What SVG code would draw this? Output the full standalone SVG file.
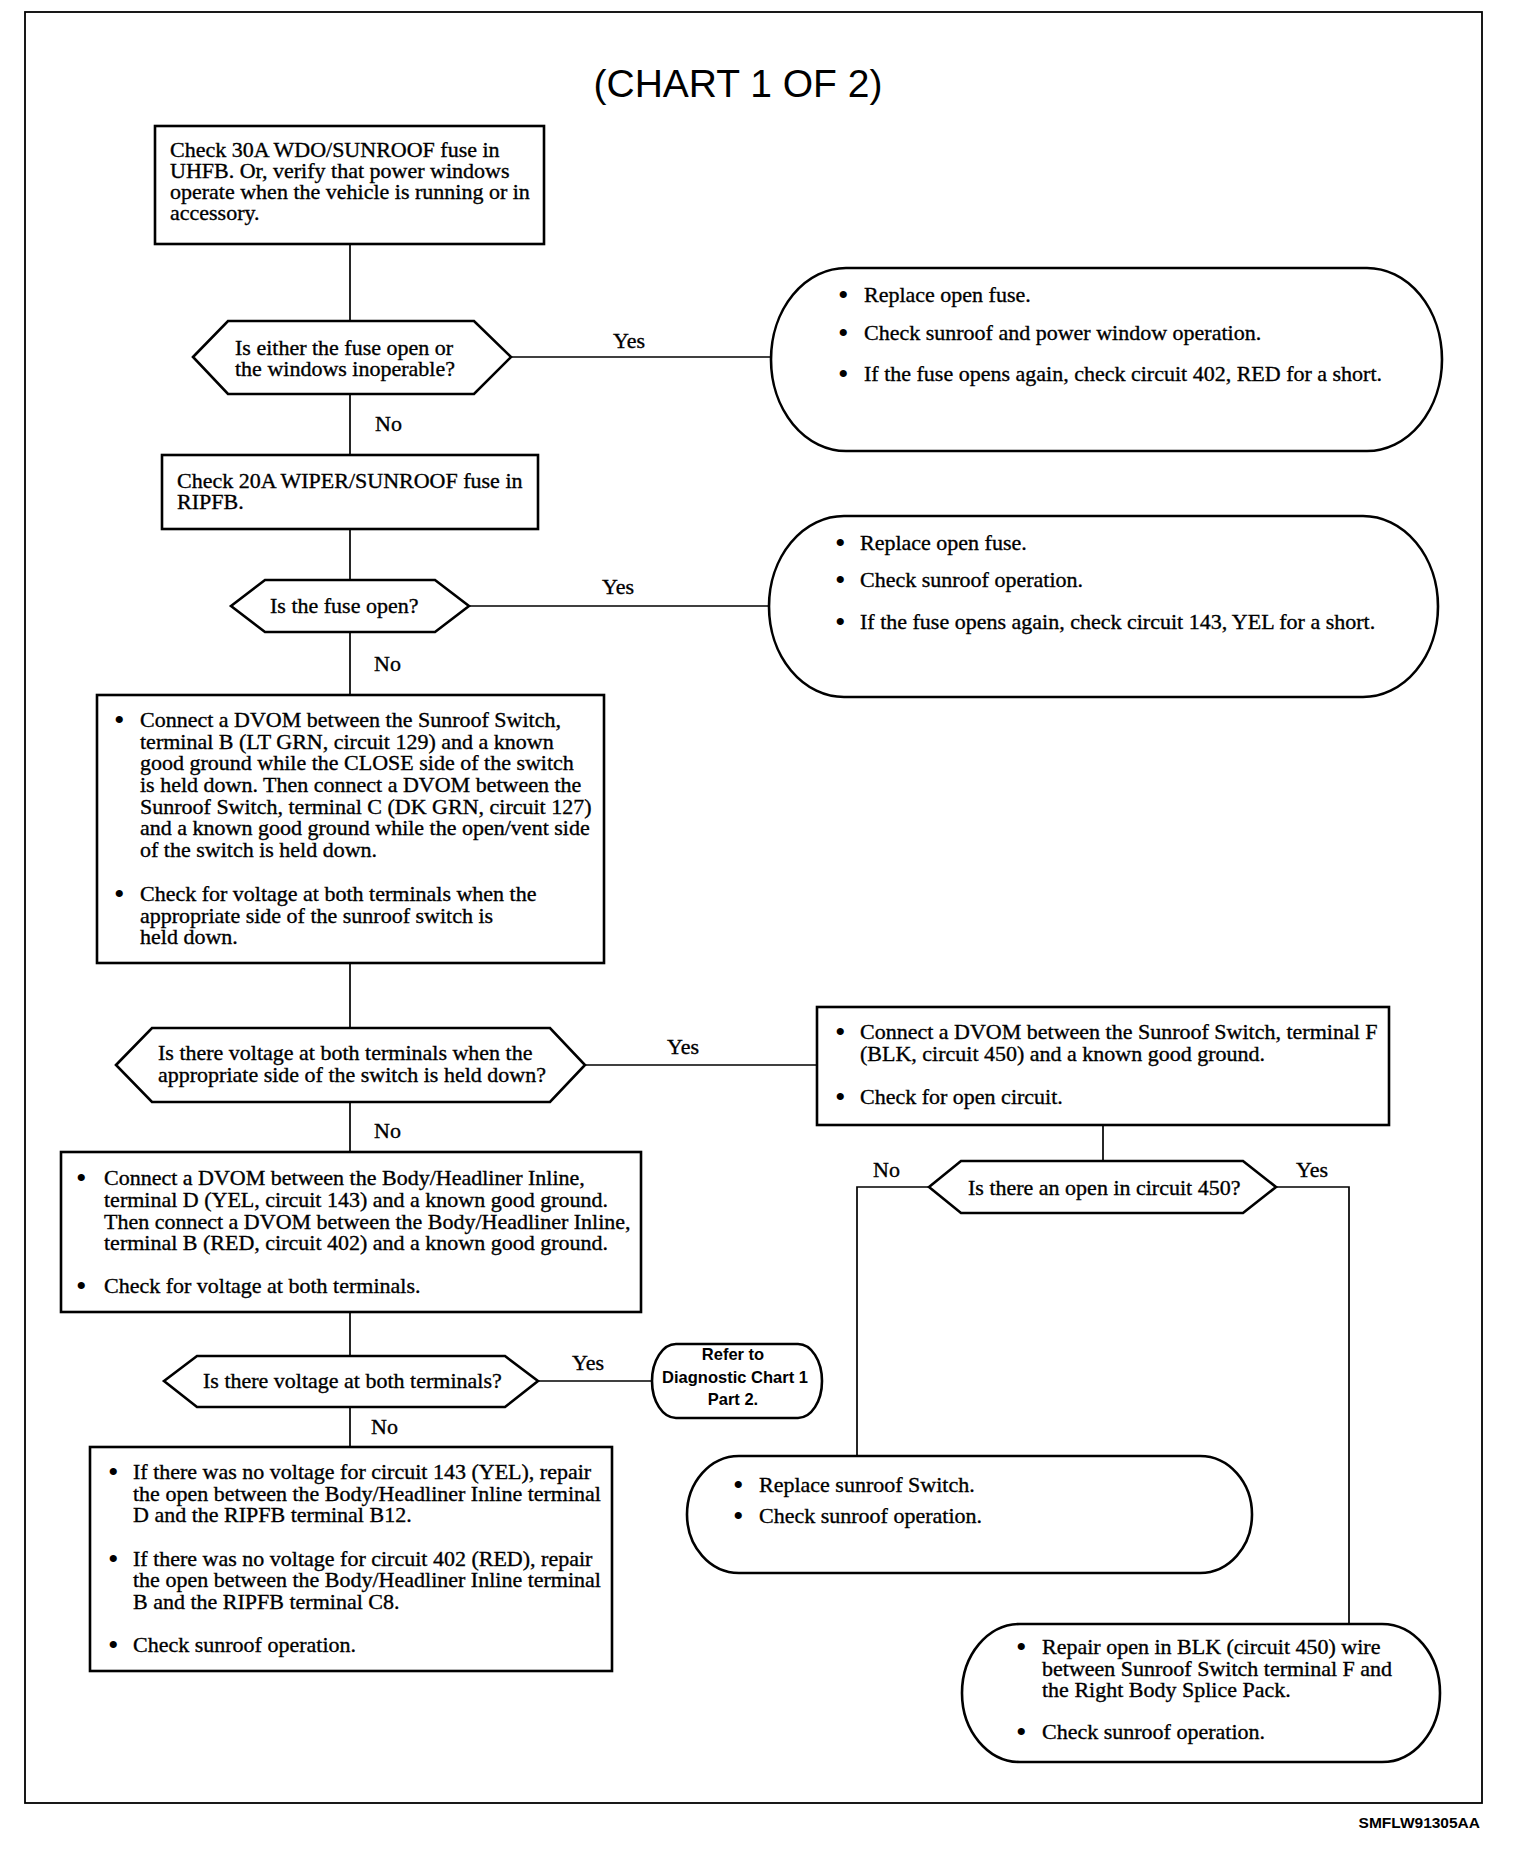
<svg xmlns="http://www.w3.org/2000/svg" width="1520" height="1852" viewBox="0 0 1520 1852">
<style>
.t{font-family:"Liberation Serif","Times New Roman",serif;font-size:22px;fill:#000;stroke:#000;stroke-width:0.35}
.b{font-family:"Liberation Serif","Times New Roman",serif;font-size:30px;fill:#000}
.lbl{font-family:"Liberation Serif","Times New Roman",serif;font-size:22px;fill:#000;stroke:#000;stroke-width:0.35}
.sans{font-family:"Liberation Sans",Arial,sans-serif;fill:#000}
.box{fill:#fff;stroke:#000;stroke-width:2.6}
.con{fill:none;stroke:#000;stroke-width:1.7}
</style>
<rect x="0" y="0" width="1520" height="1852" fill="#fff"/>
<rect x="25" y="12" width="1457" height="1791" fill="none" stroke="#000" stroke-width="1.8"/>
<text class="sans" x="738" y="97" font-size="39" text-anchor="middle">(CHART 1 OF 2)</text>

<g id="connectors">
<path class="con" d="M350 244V321"/>
<path class="con" d="M350 394V455"/>
<path class="con" d="M350 529V580"/>
<path class="con" d="M350 632V695"/>
<path class="con" d="M350 963V1028"/>
<path class="con" d="M350 1102V1152"/>
<path class="con" d="M350 1312V1356"/>
<path class="con" d="M350 1407V1447"/>
<path class="con" d="M511 357H771"/>
<path class="con" d="M469 606H769"/>
<path class="con" d="M585 1065H817"/>
<path class="con" d="M538 1381H652"/>
<path class="con" d="M1103 1125V1161"/>
<path class="con" d="M929 1187H857V1456"/>
<path class="con" d="M1276 1187H1349V1624"/>
<text class="lbl" x="613" y="348">Yes</text>
<text class="lbl" x="375" y="431">No</text>
<text class="lbl" x="602" y="594">Yes</text>
<text class="lbl" x="374" y="671">No</text>
<text class="lbl" x="667" y="1054">Yes</text>
<text class="lbl" x="374" y="1138">No</text>
<text class="lbl" x="873" y="1177">No</text>
<text class="lbl" x="1296" y="1177">Yes</text>
<text class="lbl" x="572" y="1370">Yes</text>
<text class="lbl" x="371" y="1434">No</text>
</g>

<g id="n1">
<rect class="box" x="155" y="126" width="389" height="118"/>
<text class="t" x="170" y="157">Check 30A WDO/SUNROOF fuse in</text>
<text class="t" x="170" y="178">UHFB. Or, verify that power windows</text>
<text class="t" x="170" y="199">operate when the vehicle is running or in</text>
<text class="t" x="170" y="220">accessory.</text>
</g>

<g id="d1">
<polygon class="box" points="193,357 228,321 474,321 511,357 474,394 228,394"/>
<text class="t" x="235" y="355">Is either the fuse open or</text>
<text class="t" x="235" y="376">the windows inoperable?</text>
</g>

<g id="s1">
<rect class="box" x="771" y="268" width="671" height="183" rx="75" ry="91.5"/>
<text class="b" x="838" y="305">•</text><text class="t" x="864" y="302">Replace open fuse.</text>
<text class="b" x="838" y="343">•</text><text class="t" x="864" y="340">Check sunroof and power window operation.</text>
<text class="b" x="838" y="384">•</text><text class="t" x="864" y="381">If the fuse opens again, check circuit 402, RED for a short.</text>
</g>

<g id="n2">
<rect class="box" x="162" y="455" width="376" height="74"/>
<text class="t" x="177" y="488">Check 20A WIPER/SUNROOF fuse in</text>
<text class="t" x="177" y="509">RIPFB.</text>
</g>

<g id="d2">
<polygon class="box" points="231,606 265,580 435,580 469,606 435,632 265,632"/>
<text class="t" x="270" y="613">Is the fuse open?</text>
</g>

<g id="s2">
<rect class="box" x="769" y="516" width="669" height="181" rx="75" ry="90.5"/>
<text class="b" x="835" y="553">•</text><text class="t" x="860" y="550">Replace open fuse.</text>
<text class="b" x="835" y="590">•</text><text class="t" x="860" y="587">Check sunroof operation.</text>
<text class="b" x="835" y="632">•</text><text class="t" x="860" y="629">If the fuse opens again, check circuit 143, YEL for a short.</text>
</g>

<g id="n3">
<rect class="box" x="97" y="695" width="507" height="268"/>
<text class="b" x="114" y="730">•</text>
<text class="t" x="140" y="727">Connect a DVOM between the Sunroof Switch,</text>
<text class="t" x="140" y="749">terminal B (LT GRN, circuit 129) and a known</text>
<text class="t" x="140" y="770">good ground while the CLOSE side of the switch</text>
<text class="t" x="140" y="792">is held down. Then connect a DVOM between the</text>
<text class="t" x="140" y="814">Sunroof Switch, terminal C (DK GRN, circuit 127)</text>
<text class="t" x="140" y="835">and a known good ground while the open/vent side</text>
<text class="t" x="140" y="857">of the switch is held down.</text>
<text class="b" x="114" y="904">•</text>
<text class="t" x="140" y="901">Check for voltage at both terminals when the</text>
<text class="t" x="140" y="923">appropriate side of the sunroof switch is</text>
<text class="t" x="140" y="944">held down.</text>
</g>

<g id="d3">
<polygon class="box" points="116,1065 152,1028 550,1028 585,1065 550,1102 152,1102"/>
<text class="t" x="158" y="1060">Is there voltage at both terminals when the</text>
<text class="t" x="158" y="1082">appropriate side of the switch is held down?</text>
</g>

<g id="n4">
<rect class="box" x="817" y="1007" width="572" height="118"/>
<text class="b" x="835" y="1042">•</text>
<text class="t" x="860" y="1039">Connect a DVOM between the Sunroof Switch, terminal F</text>
<text class="t" x="860" y="1061">(BLK, circuit 450) and a known good ground.</text>
<text class="b" x="835" y="1107">•</text>
<text class="t" x="860" y="1104">Check for open circuit.</text>
</g>

<g id="d4">
<polygon class="box" points="929,1187 961,1161 1243,1161 1276,1187 1243,1213 961,1213"/>
<text class="t" x="968" y="1195">Is there an open in circuit 450?</text>
</g>

<g id="n5">
<rect class="box" x="61" y="1152" width="580" height="160"/>
<text class="b" x="76" y="1188">•</text>
<text class="t" x="104" y="1185">Connect a DVOM between the Body/Headliner Inline,</text>
<text class="t" x="104" y="1207">terminal D (YEL, circuit 143) and a known good ground.</text>
<text class="t" x="104" y="1229">Then connect a DVOM between the Body/Headliner Inline,</text>
<text class="t" x="104" y="1250">terminal B (RED, circuit 402) and a known good ground.</text>
<text class="b" x="76" y="1296">•</text>
<text class="t" x="104" y="1293">Check for voltage at both terminals.</text>
</g>

<g id="d5">
<polygon class="box" points="164,1381 197,1356 505,1356 538,1381 505,1407 197,1407"/>
<text class="t" x="203" y="1388">Is there voltage at both terminals?</text>
</g>

<g id="r1">
<rect class="box" x="652" y="1344" width="170" height="74" rx="24" ry="37"/>
<text class="sans" x="733" y="1360" font-size="16.5" font-weight="bold" text-anchor="middle">Refer to</text>
<text class="sans" x="735" y="1383" font-size="16.5" font-weight="bold" text-anchor="middle">Diagnostic Chart 1</text>
<text class="sans" x="733" y="1405" font-size="16.5" font-weight="bold" text-anchor="middle">Part 2.</text>
</g>

<g id="n7">
<rect class="box" x="90" y="1447" width="522" height="224"/>
<text class="b" x="108" y="1482">•</text>
<text class="t" x="133" y="1479">If there was no voltage for circuit 143 (YEL), repair</text>
<text class="t" x="133" y="1501">the open between the Body/Headliner Inline terminal</text>
<text class="t" x="133" y="1522">D and the RIPFB terminal B12.</text>
<text class="b" x="108" y="1569">•</text>
<text class="t" x="133" y="1566">If there was no voltage for circuit 402 (RED), repair</text>
<text class="t" x="133" y="1587">the open between the Body/Headliner Inline terminal</text>
<text class="t" x="133" y="1609">B and the RIPFB terminal C8.</text>
<text class="b" x="108" y="1655">•</text>
<text class="t" x="133" y="1652">Check sunroof operation.</text>
</g>

<g id="s5">
<rect class="box" x="687" y="1456" width="565" height="117" rx="52" ry="58.5"/>
<text class="b" x="733" y="1495">•</text><text class="t" x="759" y="1492">Replace sunroof Switch.</text>
<text class="b" x="733" y="1526">•</text><text class="t" x="759" y="1523">Check sunroof operation.</text>
</g>

<g id="s6">
<rect class="box" x="962" y="1624" width="478" height="138" rx="58" ry="69"/>
<text class="b" x="1016" y="1657">•</text>
<text class="t" x="1042" y="1654">Repair open in BLK (circuit 450) wire</text>
<text class="t" x="1042" y="1676">between Sunroof Switch terminal F and</text>
<text class="t" x="1042" y="1697">the Right Body Splice Pack.</text>
<text class="b" x="1016" y="1742">•</text>
<text class="t" x="1042" y="1739">Check sunroof operation.</text>
</g>

<text class="sans" x="1480" y="1828" font-size="15.5" font-weight="bold" text-anchor="end">SMFLW91305AA</text>
</svg>
